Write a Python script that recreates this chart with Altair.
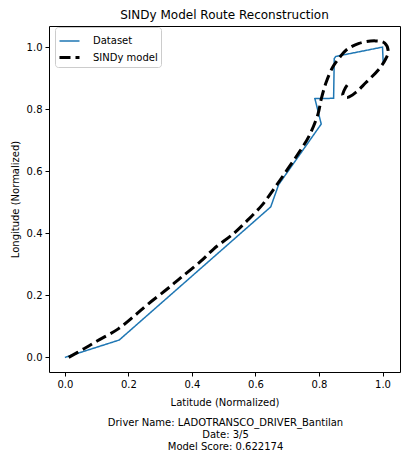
import altair as alt
import pandas as pd

# Dataset (blue) route
lat_data = [0.0, 0.171, 0.648, 0.673, 0.807, 0.791, 0.787, 0.846, 0.848, 0.853, 1.0, 1.002]
lon_data = [0.0, 0.056, 0.485, 0.557, 0.752, 0.818, 0.834, 0.835, 0.963, 0.970, 1.0, 0.952]

# SINDy model (dashed) route
lat_model = [0.012, 0.06, 0.10, 0.168, 0.22, 0.262, 0.324, 0.365, 0.428, 0.469, 0.532, 0.573,
             0.62, 0.656, 0.70, 0.74, 0.77, 0.797, 0.807, 0.822, 0.843, 0.864, 0.885, 0.926,
             0.978, 1.007, 1.018, 1.009, 0.988, 0.947, 0.916, 0.89, 0.875, 0.879, 0.89, 0.90]
lon_model = [0.0, 0.028, 0.052, 0.092, 0.135, 0.172, 0.222, 0.257, 0.31, 0.35, 0.40, 0.44,
             0.49, 0.54, 0.605, 0.665, 0.716, 0.785, 0.832, 0.885, 0.935, 0.965, 0.99, 1.012,
             1.02, 1.013, 0.986, 0.96, 0.928, 0.885, 0.854, 0.838, 0.844, 0.86, 0.879, 0.888]

series_names = ["Dataset", "SINDy model"]
series_colors = ["#1f77b4", "#000000"]
tick_values = [0.0, 0.2, 0.4, 0.6, 0.8, 1.0]
footer_lines = ["Driver Name: LADOTRANSCO_DRIVER_Bantilan", "Date: 3/5", "Model Score: 0.622174"]

df = pd.concat([
    pd.DataFrame({"lat": lat_data, "lon": lon_data, "series": series_names[0],
                  "idx": range(len(lat_data))}),
    pd.DataFrame({"lat": lat_model, "lon": lon_model, "series": series_names[1],
                  "idx": range(len(lat_model))}),
])

W, H = 351, 346
PAD_T = 18
PAD_B = 445 - PAD_T - H
FONT = "DejaVu Sans"

x_enc = alt.X("lat:Q", scale=alt.Scale(domain=[-0.05, 1.055], nice=False, zero=False),
              axis=alt.Axis(title="Latitude (Normalized)", values=tick_values, format=".1f"))
y_enc = alt.Y("lon:Q", scale=alt.Scale(domain=[-0.047, 1.068], nice=False, zero=False),
              axis=alt.Axis(title="Longitude (Normalized)", values=tick_values, format=".1f"))
leg_common = dict(title=None, orient="none", legendX=6, legendY=1)
color_enc = alt.Color("series:N", scale=alt.Scale(domain=series_names, range=series_colors),
                      legend=alt.Legend(symbolType="stroke", symbolSize=400, padding=3,
                                        rowPadding=-6, labelOffset=12,
                                        strokeColor="#cccccc", cornerRadius=3, fillColor="white",
                                        labelFontSize=10, labelFont=FONT, labelColor="black",
                                        **leg_common))
dash_enc = alt.StrokeDash("series:N", scale=alt.Scale(domain=series_names, range=[[1, 0], [11, 5]]),
                          legend=alt.Legend(**leg_common))
width_enc = alt.StrokeWidth("series:N", scale=alt.Scale(domain=series_names, range=[1.5, 3]),
                            legend=alt.Legend(**leg_common))

base = alt.Chart(df)
data_line = base.transform_filter(alt.datum.series == series_names[0]).mark_line().encode(
    x=x_enc, y=y_enc, color=color_enc, strokeDash=dash_enc, strokeWidth=width_enc, order="idx:Q")
model_line = base.transform_filter(alt.datum.series == series_names[1]).mark_line(
    interpolate="catmull-rom").encode(
    x=x_enc, y=y_enc, color=color_enc, strokeDash=dash_enc, strokeWidth=width_enc, order="idx:Q")

footer = alt.Chart(pd.DataFrame({"t": ["\n".join(footer_lines)]})).mark_text(
    lineBreak="\n", align="center", baseline="top", fontSize=10, font=FONT, color="black",
    lineHeight=12).encode(x=alt.value(W / 2 + 1), y=alt.value(H + 45.5), text="t:N")

chart = alt.layer(data_line, model_line, footer).properties(
    width=W, height=H,
    title=alt.TitleParams("SINDy Model Route Reconstruction", fontSize=12, fontWeight="normal",
                          font=FONT, color="black", anchor="middle", offset=4),
    padding={"left": 41, "top": PAD_T, "right": 1, "bottom": PAD_B},
    autosize=alt.AutoSizeParams(type="none"),
).configure_view(stroke="black", strokeWidth=1).configure_axis(
    grid=False, domain=False, tickColor="black", tickSize=4, labelFontSize=10, labelFont=FONT,
    labelColor="black", titleFontSize=10, titleFont=FONT, titleColor="black",
    titleFontWeight="normal", labelPadding=3,
).configure_axisX(titlePadding=8).configure_axisY(titlePadding=6)

chart.save("out.html", embed_options={"renderer": "svg", "actions": False})
